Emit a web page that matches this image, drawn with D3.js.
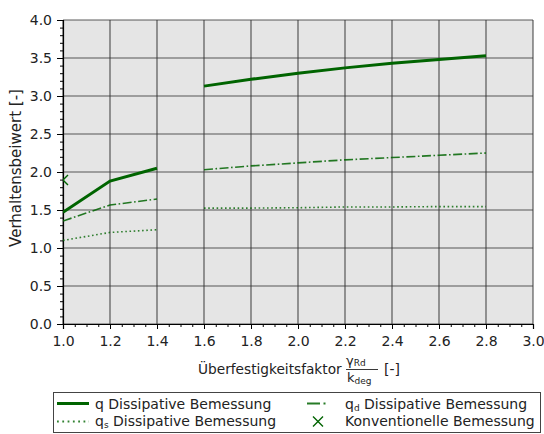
<!DOCTYPE html>
<html><head><meta charset="utf-8">
<script src="https://cdn.jsdelivr.net/npm/d3@7"></script>
<style>body{margin:0;background:#fff}text{font-family:"DejaVu Sans",sans-serif;fill:#222}</style>
</head><body><svg id="c" width="544" height="434"></svg>
<script>
const xValues = [1.0, 1.2, 1.4, 1.5, 1.6, 1.8, 2.0, 2.2, 2.4, 2.6, 2.8];
const qValues  = [1.47, 1.88, 2.05, null, 3.13, 3.22, 3.30, 3.37, 3.43, 3.48, 3.53];
const qdValues = [1.355, 1.565, 1.645, null, 2.03, 2.08, 2.12, 2.16, 2.19, 2.22, 2.25];
const qsValues = [1.10, 1.205, 1.24, null, 1.525, 1.525, 1.53, 1.54, 1.54, 1.545, 1.545];
const konvX = [1.0];
const konvY = [1.895];
const xTicks = [1.0, 1.2, 1.4, 1.6, 1.8, 2.0, 2.2, 2.4, 2.6, 2.8, 3.0];
const yTicks = [0.0, 0.5, 1.0, 1.5, 2.0, 2.5, 3.0, 3.5, 4.0];
const legendLabels = ["q", "qd", "qs", "Konventionelle Bemessung"];

const svg = d3.select("#c");
const L = 63, R = 533, T = 20, B = 324;
const x = d3.scaleLinear().domain([1, 3]).range([L, R]);
const y = d3.scaleLinear().domain([0, 4]).range([B, T]);
const green = "#006400";

svg.append("rect").attr("x", L).attr("y", T).attr("width", R - L).attr("height", B - T).attr("fill", "#e5e5e5");
svg.append("clipPath").attr("id", "clip").append("rect").attr("x", L).attr("y", T).attr("width", R - L).attr("height", B - T);

// grid
const g = svg.append("g");
g.selectAll(".gx").data(xTicks).join("line")
  .attr("x1", d => x(d)).attr("x2", d => x(d)).attr("y1", T).attr("y2", B)
  .attr("stroke", "#333").attr("stroke-opacity", 0.8).attr("stroke-width", 1.2);
g.selectAll(".gy").data(yTicks).join("line")
  .attr("x1", L).attr("x2", R).attr("y1", d => y(d)).attr("y2", d => y(d))
  .attr("stroke", "#333").attr("stroke-opacity", 0.8).attr("stroke-width", 1.2);

// axes
const xMinor = d3.range(1, 3.0001, 0.05);
const yMinor = d3.range(0, 4.0001, 0.1);
const xa = svg.append("g").attr("transform", `translate(0,${B})`);
xa.call(d3.axisBottom(x).tickValues(xMinor).tickSize(3).tickFormat(""));
xa.call(g2 => g2.select(".domain").remove());
const xb = svg.append("g").attr("transform", `translate(0,${B})`);
xb.call(d3.axisBottom(x).tickValues(xTicks).tickSize(5).tickPadding(7).tickFormat(d3.format(".1f")));
const ya = svg.append("g").attr("transform", `translate(${L},0)`);
ya.call(d3.axisLeft(y).tickValues(yMinor).tickSize(3).tickFormat(""));
ya.call(g2 => g2.select(".domain").remove());
const yb = svg.append("g").attr("transform", `translate(${L},0)`);
yb.call(d3.axisLeft(y).tickValues(yTicks).tickSize(6).tickPadding(5).tickFormat(d3.format(".1f")));
svg.selectAll(".tick line").attr("stroke", "#000").attr("stroke-width", 1);
svg.selectAll(".domain").attr("stroke", "#000").attr("stroke-width", 1.2);
svg.selectAll(".tick text").attr("font-size", 14).attr("font-family", "DejaVu Sans").attr("fill", "#222");

// lines
const pts = vals => xValues.map((d, i) => [d, vals[i]]);
const line = d3.line().defined(d => d[1] !== null).x(d => x(d[0])).y(d => y(d[1]));
const lg = svg.append("g").attr("clip-path", "url(#clip)");
lg.append("path").attr("d", line(pts(qsValues))).attr("fill", "none").attr("stroke", green).attr("stroke-opacity", 0.8)
  .attr("stroke-width", 1.6).attr("stroke-dasharray", "1.6,2.6");
lg.append("path").attr("d", line(pts(qdValues))).attr("fill", "none").attr("stroke", green).attr("stroke-opacity", 0.85)
  .attr("stroke-width", 1.6).attr("stroke-dasharray", "9,2.5,1.6,2.5");
lg.append("path").attr("d", line(pts(qValues))).attr("fill", "none").attr("stroke", green)
  .attr("stroke-width", 3);
const xMark = (sel, cx, cy, s) => sel.append("path")
  .attr("d", `M${cx - s},${cy - s}L${cx + s},${cy + s}M${cx - s},${cy + s}L${cx + s},${cy - s}`)
  .attr("stroke", green).attr("stroke-width", 1.4).attr("fill", "none");
konvX.forEach((d, i) => xMark(lg, x(d), y(konvY[i]), 5));

// axis labels
svg.append("text").attr("transform", "translate(21,168) rotate(-90)").attr("text-anchor", "middle")
  .attr("font-size", 15).text("Verhaltensbeiwert [-]");
svg.append("text").attr("x", 198).attr("y", 374).attr("font-size", 13.7).text("Überfestigkeitsfaktor");
const num = svg.append("text").attr("x", 346).attr("y", 365).attr("font-size", 13);
num.append("tspan").text("γ");
num.append("tspan").attr("font-size", 9).attr("dy", 1).text("Rd");
svg.append("line").attr("x1", 346).attr("x2", 378).attr("y1", 369.5).attr("y2", 369.5).attr("stroke", "#222").attr("stroke-width", 0.9);
const den = svg.append("text").attr("x", 347).attr("y", 382).attr("font-size", 13);
den.append("tspan").text("k");
den.append("tspan").attr("font-size", 9).attr("dy", 2).text("deg");
svg.append("text").attr("x", 384).attr("y", 374).attr("font-size", 14).text("[-]");

// legend
const lgd = svg.append("g");
lgd.append("rect").attr("x", 53.5).attr("y", 392.5).attr("width", 487).attr("height", 40)
  .attr("fill", "#fff").attr("stroke", "#444").attr("stroke-width", 1);
const row1 = 408.5, row2 = 425.5;
lgd.append("line").attr("x1", 57).attr("x2", 89).attr("y1", 403.5).attr("y2", 403.5).attr("stroke", green).attr("stroke-width", 3);
lgd.append("line").attr("x1", 57).attr("x2", 89).attr("y1", 421.5).attr("y2", 421.5).attr("stroke", green).attr("stroke-opacity", 0.8)
  .attr("stroke-width", 1.8).attr("stroke-dasharray", "1.8,3.5");
lgd.append("line").attr("x1", 307).attr("x2", 329).attr("y1", 403.5).attr("y2", 403.5).attr("stroke", green).attr("stroke-opacity", 0.85)
  .attr("stroke-width", 2).attr("stroke-dasharray", "13,3.5,2,10");
xMark(lgd, 318, 421.5, 5);
const t1 = lgd.append("text").attr("x", 95).attr("y", row1).attr("font-size", 14);
t1.append("tspan").text(legendLabels[0] + " Dissipative Bemessung");
const t2 = lgd.append("text").attr("x", 95).attr("y", row2).attr("font-size", 14);
t2.append("tspan").text("q");
t2.append("tspan").attr("font-size", 9).attr("dy", 2).text("s");
t2.append("tspan").attr("dy", -2).text(" Dissipative Bemessung");
const t3 = lgd.append("text").attr("x", 345).attr("y", row1).attr("font-size", 14);
t3.append("tspan").text("q");
t3.append("tspan").attr("font-size", 9).attr("dy", 2).text("d");
t3.append("tspan").attr("dy", -2).text(" Dissipative Bemessung");
lgd.append("text").attr("x", 345).attr("y", row2).attr("font-size", 14).text(legendLabels[3]);
</script></body></html>
